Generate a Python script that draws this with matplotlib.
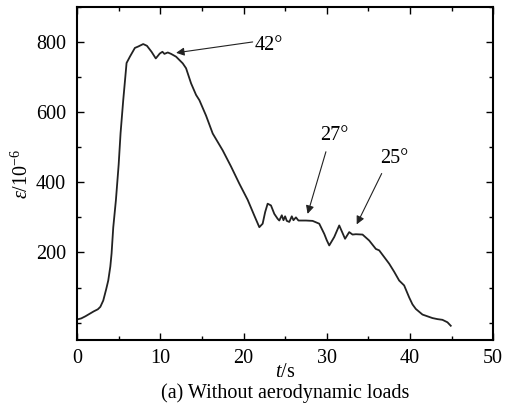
import matplotlib
matplotlib.use("Agg")
import matplotlib.pyplot as plt
from matplotlib.ticker import MultipleLocator

plt.rcParams['font.family'] = ['Liberation Serif', 'DejaVu Serif']
plt.rcParams['mathtext.fontset'] = 'custom'
plt.rcParams['mathtext.rm'] = 'Liberation Serif'
plt.rcParams['mathtext.it'] = 'Liberation Serif:italic'

# strain curve
t = [0, 0.5, 1.0, 1.5, 2.0, 2.5, 2.8, 3.15, 3.5, 3.75, 4.0, 4.15, 4.35, 4.67, 5.0,
     5.23, 5.55, 5.8, 5.95, 6.35, 6.95, 7.35, 7.95, 8.4, 8.95, 9.46, 9.94, 10.26, 10.5, 10.9,
     11.3, 11.9, 12.7, 13.1, 13.7, 14.3, 14.7, 15.5, 16.3, 17.5, 18.5, 19.5, 20.5, 21.3, 21.9,
     22.3, 22.6, 22.9, 23.3, 23.7, 24.1, 24.3, 24.6, 24.8, 25.0, 25.2, 25.5, 25.8, 26.0, 26.3,
     26.6, 26.9, 27.5, 28.3, 29.1, 29.7, 30.0, 30.3, 30.9, 31.5, 32.2, 32.7, 33.1, 33.5, 34.3,
     35.1, 35.9, 36.3, 37.5, 38.1, 38.7, 39.3, 39.9, 40.3, 40.7, 41.5, 42.1, 42.7, 43.3, 43.9,
     44.5, 44.9]
strain = [9, 12, 18, 25, 32, 38, 45, 63, 95, 120, 160, 197, 271, 349, 450,
          540, 634, 700, 740, 758, 783, 787, 794, 789, 772, 753, 767, 772, 766, 770,
          766, 758, 739, 725, 682, 649, 634, 590, 539, 491, 445, 396, 350, 305, 272,
          282, 315, 339, 334, 310, 296, 291, 306, 292, 303, 290, 287, 303, 292, 300,
          291, 291, 291, 290, 282, 253, 235, 220, 244, 277, 239, 258, 251, 252, 251,
          234, 210, 206, 168, 145, 120, 106, 72, 52, 39, 23, 18, 13, 10, 8,
          1, -9]

# annotations: label, text position, arrow tail, arrow tip
ann_labels = ['42°', '27°', '25°']
ann_text = [(23.0, 791), (30.9, 534), (38.1, 468)]
ann_tail = [(21.1, 800), (29.9, 487), (36.6, 425)]
ann_tip = [(11.9, 769), (27.7, 310), (33.6, 280)]

fs = 14.5

fig = plt.figure(figsize=(5.17, 4.04), dpi=100)
ax = fig.add_axes([0.149, 0.158, 0.805, 0.825])

ax.plot(t, strain, color='#222222', lw=1.3)

for lab, txt, tail, tip in zip(ann_labels, ann_text, ann_tail, ann_tip):
    ax.text(txt[0], txt[1], lab, fontsize=fs, ha='center', va='center')
    ax.annotate('', xy=tip, xytext=tail,
                arrowprops=dict(arrowstyle='-|>', color='#222222', lw=0.8,
                                mutation_scale=12, shrinkA=0, shrinkB=0))

ax.set_xlim(0, 50)
ax.set_ylim(-50, 900)
ax.set_xticks([0, 10, 20, 30, 40, 50])
ax.set_yticks([200, 400, 600, 800])
ax.xaxis.set_minor_locator(MultipleLocator(5))
ax.yaxis.set_minor_locator(MultipleLocator(100))
ax.tick_params(which='both', direction='in', top=True, right=True, labelsize=fs)
ax.tick_params(axis='x', pad=6)
ax.tick_params(axis='y', pad=8)
ax.tick_params(which='major', length=5, width=1)
ax.tick_params(which='minor', length=3, width=1)
for sp in ax.spines.values():
    sp.set_linewidth(1.5)

ax.set_xlabel(r'$\it{t}$/s', fontsize=fs, labelpad=-3)
ax.set_ylabel(r'$\it{\varepsilon}$/10$^{-6}$', fontsize=fs, labelpad=2)

fig.text(0.551, 0.027, '(a) Without aerodynamic loads', fontsize=fs, ha='center', va='center')

fig.savefig('out.png', dpi=100)
